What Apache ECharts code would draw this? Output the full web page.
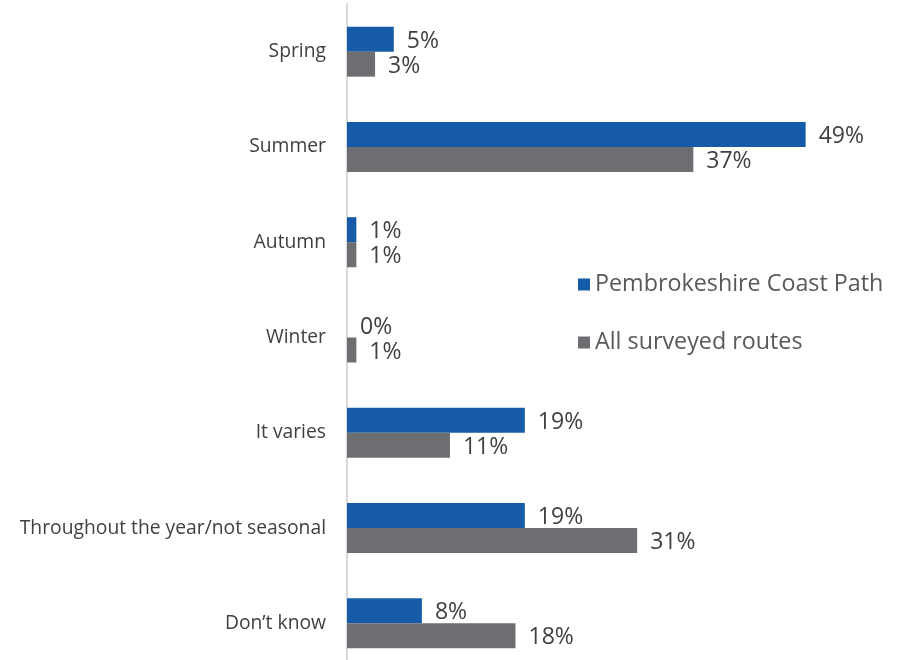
<!DOCTYPE html>
<html>
<head>
<meta charset="utf-8">
<script src="https://cdn.jsdelivr.net/npm/echarts@6/dist/echarts.min.js"></script>
<style>html,body{margin:0;padding:0;background:#fff;overflow:hidden}#c{width:907px;height:680px}</style>
</head>
<body>
<div id="c"></div>
<script>
var categories = ['Spring', 'Summer', 'Autumn', 'Winter', 'It varies', 'Throughout the year/not seasonal', 'Don\u2019t know'];
var seriesNames = ['Pembrokeshire Coast Path', 'All surveyed routes'];
var pembrokeshire = [5, 49, 1, 0, 19, 19, 8];
var allRoutes = [3, 37, 1, 1, 11, 31, 18];

var chart = echarts.init(document.getElementById('c'));
var font = 'Open Sans';
function labelCfg() {
  return { show: true, position: 'right', distance: 13, offset: [0, 2], color: '#404040', fontSize: 23, fontFamily: font,
    formatter: function (p) { return p.value + '%'; } };
}
chart.setOption({
  animation: false,
  textStyle: { fontFamily: font },
  legend: {
    orient: 'vertical', left: 573, top: 268, itemGap: 35,
    itemWidth: 12, itemHeight: 12, icon: 'rect',
    textStyle: { fontSize: 23.3, color: '#595959', fontFamily: font, padding: [0, 0, 0, 0] },
    data: seriesNames
  },
  grid: { left: 347, top: 4, width: 468, height: 667, containLabel: false },
  xAxis: { type: 'value', min: 0, max: 50, show: false },
  yAxis: {
    type: 'category', inverse: true, data: categories,
    axisLine: { show: true, lineStyle: { color: '#D9D9D9', width: 2 } },
    axisTick: { show: false },
    axisLabel: { color: '#404040', fontSize: 19.3, fontFamily: font, margin: 21 }
  },
  series: [
    { name: seriesNames[0], type: 'bar', data: pembrokeshire, barGap: '0%', barCategoryGap: '47.5%',
      itemStyle: { color: '#165BA8' }, label: labelCfg() },
    { name: seriesNames[1], type: 'bar', data: allRoutes, barGap: '0%', barCategoryGap: '47.5%',
      itemStyle: { color: '#6D6E71' }, label: labelCfg() }
  ]
});
</script>
</body>
</html>
